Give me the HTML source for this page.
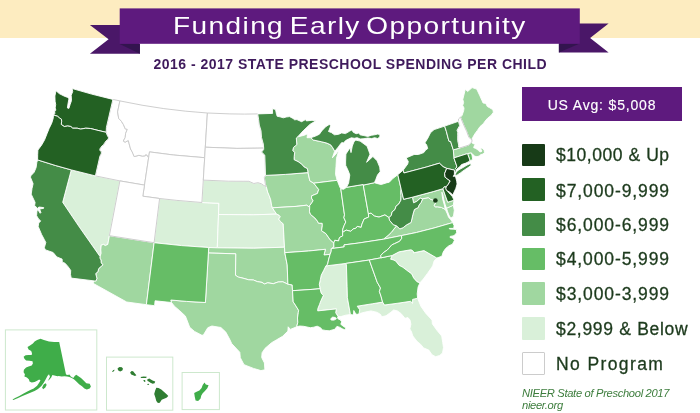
<!DOCTYPE html>
<html lang="en">
<head>
<meta charset="utf-8">
<title>Funding Early Opportunity</title>
<style>
html,body{margin:0;padding:0;background:#fff}
body{width:700px;height:413px;position:relative;overflow:hidden;font-family:"Liberation Sans",sans-serif}
.band{position:absolute;left:0;top:0;width:700px;height:37.5px;background:#fdecc0}
svg.art{position:absolute;left:0;top:0}
.title{position:absolute;left:172.7px;top:8.0px;height:36px;line-height:36px;color:#fff;font-size:24px;white-space:nowrap;letter-spacing:1.2px;word-spacing:-3px;transform-origin:0 50%;transform:scaleX(1.168)}
.sub{position:absolute;left:153.5px;top:55px;width:393px;height:18px;line-height:18px;color:#3f1a5c;font-size:14px;font-weight:bold;white-space:nowrap;letter-spacing:0.49px}
.avg{position:absolute;left:522px;top:87.3px;width:160px;height:34.2px;background:#5e1a7e;color:#fff;font-size:14px;line-height:37.2px;text-align:center;letter-spacing:.83px;-webkit-text-stroke:.15px #fff}
.lg{position:absolute;left:522px;width:178px;height:22.6px}
.lg i{position:absolute;left:0;top:0;width:22.8px;height:22.6px;display:block;box-sizing:border-box;border-radius:1px}
.lg span{position:absolute;left:34px;top:0;line-height:22.6px;font-size:17.5px;color:#1c3a1c;white-space:nowrap;letter-spacing:.5px;-webkit-text-stroke:.3px #1c3a1c}
.foot{position:absolute;left:522px;top:388.2px;font-size:11.2px;line-height:11.7px;letter-spacing:-.33px;font-style:italic;color:#3d7d3d;white-space:nowrap}
.s-10k{fill:#173a17;stroke:#fff;stroke-width:0.9;stroke-linejoin:round;fill-rule:evenodd}
.s-7k{fill:#236123;stroke:#fff;stroke-width:0.9;stroke-linejoin:round;fill-rule:evenodd}
.s-6k{fill:#448c47;stroke:#fff;stroke-width:0.9;stroke-linejoin:round;fill-rule:evenodd}
.s-4k{fill:#66bd66;stroke:#fff;stroke-width:0.9;stroke-linejoin:round;fill-rule:evenodd}
.s-3k{fill:#a0d7a0;stroke:#fff;stroke-width:0.9;stroke-linejoin:round;fill-rule:evenodd}
.s-2k{fill:#d9f0d9;stroke:#fff;stroke-width:0.9;stroke-linejoin:round;fill-rule:evenodd}
.s-none{fill:#ffffff;stroke:#c8c8c8;stroke-width:0.9;stroke-linejoin:round;fill-rule:evenodd}
</style>
</head>
<body>
<div class="band"></div>
<svg class="art" width="700" height="413" viewBox="0 0 700 413">
<!-- ribbon -->
<polygon points="89.9,25 125,25 139.9,44 139.9,53.8 89.9,53.8 108.6,39.2" fill="#4a1768"/>
<polygon points="119.7,44 139.9,44 139.9,53.8" fill="#33144f"/>
<polygon points="608.6,23.5 570,23.5 558.9,43.6 558.9,52.6 608.6,52.6 590.1,38.1" fill="#4a1768"/>
<polygon points="579.8,43.6 558.9,43.6 558.9,52.6" fill="#33144f"/>
<rect x="119.7" y="8.4" width="460.1" height="35.4" fill="#5e1a7e"/>

<path class="s-2k" d="M71.3,169.9 95.4,175.9 119.9,180.9 109.4,235.7 107.8,244.4 105.2,245.6 103.6,244.4 101.2,245.2 100.8,249.9 101.1,253.3 100.0,256.5 79.4,227.1 62.7,202.3 71.3,169.9Z"/>
<path class="s-2k" d="M159.6,198.5 176.9,200.4 201.9,202.5 218.9,203.3 218.5,214.5 217.3,247.8 208.7,247.5 181.6,245.6 154.1,242.7 159.6,198.5Z"/>
<path class="s-2k" d="M203.3,180.1 228.3,181.2 248.9,181.3 253.8,183.5 257.9,182.7 261.2,183.7 263.8,185.5 266.3,186.6 267.7,192.1 269.1,195.4 270.7,199.8 271.6,205.4 272.4,207.8 274.4,210.9 276.6,214.1 253.4,214.8 218.5,214.5 218.9,203.3 201.9,202.5 203.3,180.1Z"/>
<path class="s-2k" d="M218.5,214.5 253.4,214.8 276.6,214.1 278.9,215.1 280.3,216.7 278.7,219.1 280.6,221.7 283.2,223.8 284.5,247.2 253.9,248.2 217.3,247.8 218.5,214.5Z"/>
<path class="s-2k" d="M325.9,265.9 345.3,263.5 346.4,264.6 347.1,286.6 347.4,297.7 350.4,314.5 345.6,315.2 340.9,316.6 338.0,316.4 335.7,312.8 336.3,308.9 317.7,310.9 317.8,308.7 319.4,304.7 320.9,300.7 323.3,295.5 321.1,293.0 320.1,288.7 319.3,284.3 320.3,279.8 321.2,275.3 323.6,270.6 325.9,265.9Z"/>
<path class="s-2k" d="M382.6,302.1 384.5,305.0 397.9,303.2 410.6,301.3 412.6,303.2 412.6,299.4 417.6,298.2 421.0,306.5 425.7,313.2 432.0,320.1 432.4,323.9 437.1,330.5 441.7,336.0 442.7,342.4 443.5,347.7 442.5,352.9 439.8,355.4 435.7,356.7 432.0,354.8 428.8,350.1 423.6,347.9 420.5,344.2 417.2,341.6 412.8,336.0 411.5,331.8 409.8,328.9 410.9,324.2 410.0,320.0 408.0,317.6 405.0,318.3 401.0,313.5 397.4,310.9 393.6,310.0 391.0,312.2 386.0,315.8 381.6,316.8 380.7,314.6 377.3,312.4 371.0,310.9 364.1,312.3 359.1,313.8 359.7,309.7 357.2,306.2 372.8,303.7 382.6,302.1Z"/>
<path class="s-2k" d="M419.9,282.9 416.9,281.7 413.6,277.9 411.7,273.9 406.4,270.0 402.9,267.3 399.1,265.3 395.7,261.0 393.1,259.8 390.6,259.2 392.1,255.5 399.1,251.8 410.6,249.8 411.8,250.1 413.6,251.6 413.6,252.8 424.0,250.6 436.8,258.0 434.1,261.1 432.8,265.4 431.8,267.3 427.4,273.5 423.3,279.1 419.9,282.9Z"/>
<path class="s-3k" d="M109.4,235.7 154.1,242.7 146.4,304.7 126.7,302.0 92.9,283.2 94.3,280.9 96.1,280.9 96.9,278.3 95.7,273.6 97.9,271.8 98.7,268.6 101.2,266.3 103.0,264.9 101.2,262.9 101.0,260.0 99.9,258.1 100.0,256.5 101.1,253.3 100.8,249.9 101.2,245.2 103.6,244.4 105.2,245.6 107.8,244.4 109.4,235.7Z"/>
<path class="s-3k" d="M208.7,247.5 217.3,247.8 253.9,248.2 284.5,247.2 284.8,252.7 287.2,264.8 287.9,284.2 282.8,281.8 278.1,282.0 273.4,283.7 267.7,282.8 264.4,284.0 262.0,282.4 257.2,281.6 253.4,280.0 248.7,279.8 243.0,278.2 238.3,277.1 235.5,275.3 235.7,253.8 208.4,253.0 208.7,247.5Z"/>
<path class="s-3k" d="M208.4,253.0 235.7,253.8 235.5,275.3 238.3,277.1 243.0,278.2 248.7,279.8 253.4,280.0 257.2,281.6 262.0,282.4 264.4,284.0 267.7,282.8 273.4,283.7 278.1,282.0 282.8,281.8 287.9,284.2 292.2,284.9 292.5,290.7 293.2,301.9 294.7,304.0 298.6,310.3 298.3,312.5 297.5,318.0 297.8,322.4 296.7,326.8 290.3,329.4 288.2,326.8 287.9,331.1 282.6,336.3 276.6,339.8 271.6,342.7 265.1,348.3 262.1,352.7 261.7,357.5 264.4,362.9 264.9,369.8 260.9,370.6 253.5,368.4 244.0,364.7 240.3,357.7 239.8,352.3 231.7,343.6 229.7,339.3 225.8,332.1 220.9,327.5 211.9,326.0 207.8,327.7 203.2,335.3 201.4,335.0 194.5,331.4 189.7,327.3 188.0,322.8 185.4,316.1 179.9,310.9 174.4,306.2 171.5,302.5 170.8,300.0 186.5,301.4 205.4,302.5 208.4,253.0Z"/>
<path class="s-3k" d="M265.5,175.4 285.4,174.4 308.0,172.6 309.0,177.0 309.8,180.8 313.8,183.2 316.2,186.3 318.7,189.5 317.4,193.5 311.7,195.8 311.5,198.1 313.1,200.7 312.0,202.5 309.7,205.6 309.7,207.5 306.8,205.2 296.1,206.4 272.4,207.8 271.6,205.4 270.7,199.8 269.1,195.4 267.7,192.1 266.3,186.6 265.4,184.4 264.9,181.0 264.3,177.7 265.5,175.4Z"/>
<path class="s-3k" d="M272.4,207.8 296.1,206.4 306.8,205.2 309.7,207.5 309.5,211.8 310.6,214.5 314.9,218.0 317.4,221.1 318.5,223.2 322.2,223.3 322.3,225.8 321.5,230.7 325.9,233.6 330.2,239.8 333.8,242.9 333.9,247.1 331.3,248.6 331.2,251.4 330.1,254.3 324.0,255.0 325.4,249.3 308.6,251.0 284.8,252.7 284.5,247.2 283.2,223.8 280.6,221.7 278.7,219.1 280.3,216.7 278.9,215.1 276.6,214.1 274.4,210.9 272.4,207.8Z"/>
<path class="s-3k" d="M297.6,136.9 304.4,135.2 307.7,133.7 307.0,137.7 310.7,137.7 313.3,140.0 321.3,141.7 326.8,143.1 330.6,144.8 332.7,147.6 334.7,151.2 332.4,157.8 336.6,153.2 339.4,148.3 336.5,158.3 336.0,166.3 335.5,174.3 337.2,180.3 313.8,183.2 309.8,180.8 309.0,177.0 308.0,172.6 307.4,168.7 303.9,166.8 301.7,164.2 298.2,161.7 294.1,159.7 294.2,156.4 294.7,152.4 292.7,150.6 293.5,147.4 295.7,145.5 296.8,144.5 296.3,138.1 297.6,136.9Z"/>
<path class="s-3k" d="M383.5,239.2 401.4,235.6 416.4,232.5 434.0,228.0 452.7,222.6 450.5,219.2 448.7,217.5 447.1,213.3 445.3,209.4 441.4,207.4 437.5,206.8 435.2,206.9 434.3,205.4 435.8,202.7 435.6,201.6 434.6,200.4 430.8,199.4 428.3,197.6 422.6,198.8 421.1,202.4 418.8,205.5 418.4,207.4 414.4,209.5 412.9,214.5 411.1,222.4 406.4,225.0 403.1,227.7 399.9,228.9 396.5,225.8 391.2,232.5 388.1,235.4 383.5,239.2ZM453.3,205.2 454.3,210.3 453.5,216.2 450.8,218.2 448.9,215.1 447.7,211.9 446.5,208.2 453.3,205.2Z"/>
<path class="s-3k" d="M412.4,197.2 433.2,191.6 442.9,188.7 447.7,202.2 454.0,200.2 453.3,205.2 446.5,208.2 445.2,204.6 443.8,199.8 443.0,195.3 441.9,192.2 442.2,195.6 442.9,200.0 444.3,204.8 445.3,209.4 441.4,207.4 437.5,206.8 435.2,206.9 434.3,205.4 435.8,202.7 435.6,201.6 434.6,200.4 430.8,199.4 428.3,197.6 422.6,198.8 420.3,198.2 416.7,201.4 413.6,202.8 412.4,197.2Z"/>
<path class="s-3k" d="M453.3,149.9 459.7,148.0 468.8,145.1 469.4,144.3 471.9,141.9 472.6,143.4 475.2,144.3 474.2,145.9 473.7,147.7 475.2,148.2 477.0,149.3 478.5,150.4 479.4,151.6 481.0,151.9 481.9,151.1 481.5,150.0 480.2,148.6 482.0,148.0 484.1,150.3 484.5,152.7 482.6,154.1 480.6,154.7 479.2,156.0 477.0,156.7 474.9,156.3 473.0,154.7 471.4,153.0 467.5,153.6 453.9,157.9 453.3,149.9Z"/>
<path class="s-3k" d="M460.5,117.1 462.1,115.3 463.7,110.5 464.0,108.0 462.7,105.5 463.6,102.5 462.8,99.4 465.3,89.3 467.7,91.5 472.1,87.6 476.7,89.1 479.6,95.2 482.1,100.8 483.0,102.9 485.8,103.5 487.3,106.5 489.2,107.5 492.3,109.3 492.9,110.1 493.4,112.2 491.3,115.2 487.6,118.2 485.0,121.2 483.3,123.7 480.0,126.6 477.4,130.4 474.9,133.8 472.6,137.7 472.0,139.5 470.8,139.2 468.8,137.1 466.7,131.5 463.9,125.4 460.5,117.1Z"/>
<path class="s-4k" d="M154.1,242.7 181.6,245.6 208.7,247.5 208.4,253.0 205.4,302.5 186.5,301.4 170.8,300.0 171.5,302.5 155.1,300.8 154.6,305.7 146.4,304.7 154.1,242.7Z"/>
<path class="s-4k" d="M284.8,252.7 308.6,251.0 325.4,249.3 324.0,255.0 330.1,254.3 328.5,260.0 327.6,264.3 325.9,265.9 323.6,270.6 321.2,275.3 320.3,279.8 319.3,284.3 320.1,288.7 312.1,289.4 292.5,290.7 292.2,284.9 287.9,284.2 287.2,264.8 284.8,252.7Z"/>
<path class="s-4k" d="M292.5,290.7 312.1,289.4 320.1,288.7 321.1,293.0 323.3,295.5 320.9,300.7 319.4,304.7 317.8,308.7 317.7,310.9 336.3,308.9 335.7,312.8 338.0,316.4 337.5,317.6 338.0,318.8 340.2,319.8 341.7,321.8 340.8,324.3 343.0,326.0 345.8,327.9 345.3,330.0 342.3,328.8 339.5,327.2 336.9,326.4 334.8,329.3 332.1,330.0 329.3,330.8 325.9,330.5 322.6,329.9 320.2,327.6 317.2,326.2 313.7,327.2 310.3,327.7 303.6,326.3 299.5,326.0 296.7,326.8 297.8,322.4 297.5,318.0 298.3,312.5 298.6,310.3 294.7,304.0 293.2,301.9 292.5,290.7ZM330.7,318.8 332.7,317.1 335.4,317.5 336.4,318.8 334.0,320.1 331.3,320.1 330.7,318.8Z"/>
<path class="s-4k" d="M313.8,183.2 337.2,180.3 339.9,187.3 340.8,188.8 344.5,214.8 343.9,217.7 345.8,222.0 344.1,225.6 342.8,229.1 342.6,232.5 342.7,235.9 339.5,237.5 338.6,240.9 334.8,240.3 333.8,242.9 330.2,239.8 325.9,233.6 321.5,230.7 322.3,225.8 322.2,223.3 318.5,223.2 317.4,221.1 314.9,218.0 310.6,214.5 309.5,211.8 309.7,207.5 309.7,205.6 312.0,202.5 313.1,200.7 311.5,198.1 311.7,195.8 317.4,193.5 318.7,189.5 316.2,186.3 313.8,183.2Z"/>
<path class="s-4k" d="M340.8,188.8 343.6,189.3 346.5,187.3 363.2,184.5 368.4,213.7 368.7,217.1 364.1,219.0 361.9,224.3 361.1,227.4 357.3,226.4 355.8,228.3 353.2,228.9 350.8,231.3 346.1,230.1 342.6,232.5 342.8,229.1 344.1,225.6 345.8,222.0 343.9,217.7 344.5,214.8 340.8,188.8Z"/>
<path class="s-4k" d="M374.4,182.7 378.5,183.9 381.2,184.5 386.9,182.7 389.3,182.2 392.8,178.5 397.8,174.7 401.2,189.3 400.8,192.2 401.1,195.5 400.9,200.2 398.7,204.1 396.0,206.2 395.0,209.5 392.1,211.9 391.3,215.5 389.0,217.6 384.9,214.9 379.0,217.1 374.3,216.0 371.1,213.2 368.4,213.7 363.2,184.5 363.3,185.1 374.4,182.7Z"/>
<path class="s-4k" d="M333.8,242.9 334.8,240.3 338.6,240.9 339.5,237.5 342.7,235.9 342.6,232.5 346.1,230.1 350.8,231.3 353.2,228.9 355.8,228.3 357.3,226.4 361.1,227.4 361.9,224.3 364.1,219.0 368.7,217.1 368.4,213.7 371.1,213.2 374.3,216.0 379.0,217.1 384.9,214.9 389.0,217.6 389.6,220.4 393.3,224.7 396.5,225.8 391.2,232.5 388.1,235.4 383.5,239.2 358.1,243.1 344.0,244.9 344.2,246.9 331.3,248.6 333.9,247.1 333.8,242.9Z"/>
<path class="s-4k" d="M331.3,248.6 344.2,246.9 344.0,244.9 358.1,243.1 383.5,239.2 401.4,235.6 401.8,238.2 399.6,241.3 394.5,243.7 391.9,244.8 387.3,250.0 383.2,252.8 380.8,255.5 381.1,257.8 369.3,260.0 345.3,263.5 325.9,265.9 327.6,264.3 328.5,260.0 330.1,254.3 331.2,251.4 331.3,248.6Z"/>
<path class="s-4k" d="M345.3,263.5 369.3,260.0 377.2,282.2 380.5,288.0 379.4,291.5 381.0,296.2 382.6,302.1 372.8,303.7 357.2,306.2 359.7,309.7 359.1,313.8 356.9,314.5 355.2,313.1 353.8,310.5 353.4,315.0 350.4,314.5 347.4,297.7 347.1,286.6 346.4,264.6 345.3,263.5Z"/>
<path class="s-4k" d="M369.3,260.0 381.1,257.8 392.1,255.5 390.6,259.2 393.1,259.8 395.7,261.0 399.1,265.3 402.9,267.3 406.4,270.0 411.7,273.9 413.6,277.9 416.9,281.7 419.9,282.9 418.1,287.0 417.2,293.9 417.6,298.2 412.6,299.4 412.6,303.2 410.6,301.3 397.9,303.2 384.5,305.0 382.6,302.1 381.0,296.2 379.4,291.5 380.5,288.0 377.2,282.2 369.3,260.0Z"/>
<path class="s-4k" d="M401.4,235.6 401.8,238.2 399.6,241.3 394.5,243.7 391.9,244.8 387.3,250.0 383.2,252.8 380.8,255.5 381.1,257.8 392.1,255.5 399.1,251.8 410.6,249.8 411.8,250.1 413.6,251.6 413.6,252.8 424.0,250.6 436.8,258.0 438.1,257.6 441.9,256.2 443.2,252.1 445.6,248.5 449.0,245.7 452.4,244.3 454.4,240.5 453.1,238.4 450.1,237.5 450.2,236.4 453.1,235.9 454.9,235.0 456.6,232.7 456.4,229.6 453.9,229.2 449.5,229.0 449.3,228.4 453.7,228.4 454.1,225.7 452.7,222.6 434.0,228.0 416.4,232.5 401.4,235.6Z"/>
<path class="s-4k" d="M467.5,153.6 469.8,159.9 469.6,161.2 472.7,159.4 472.1,155.8 471.4,153.0 467.5,153.6Z"/>
<path class="s-none" d="M112.9,99.4 119.9,100.9 117.6,111.9 118.7,118.4 121.4,121.3 123.4,124.5 125.3,128.9 127.3,129.3 125.6,133.5 125.2,137.5 123.3,141.1 125.1,142.2 128.3,140.5 129.2,143.9 130.6,149.1 131.9,151.3 133.0,153.7 134.2,156.6 138.9,155.3 142.4,156.1 145.3,155.8 145.7,154.6 147.2,155.3 148.6,157.8 144.5,185.1 119.9,180.9 95.4,175.9 99.9,156.2 100.7,154.7 101.4,153.1 101.2,151.3 99.8,150.4 100.0,148.7 102.1,145.8 103.5,145.1 104.3,143.4 106.0,141.0 108.3,139.1 108.4,137.4 107.0,134.8 106.2,132.3 106.4,127.5 112.9,99.4Z"/>
<path class="s-none" d="M119.9,100.9 142.0,105.2 163.8,108.6 185.8,111.2 207.4,113.0 205.3,147.2 204.7,157.7 173.5,155.0 149.5,151.9 148.6,157.8 147.2,155.3 145.7,154.6 145.3,155.8 142.4,156.1 138.9,155.3 134.2,156.6 133.0,153.7 131.9,151.3 130.6,149.1 129.2,143.9 128.3,140.5 125.1,142.2 123.3,141.1 125.2,137.5 125.6,133.5 127.3,129.3 125.3,128.9 123.4,124.5 121.4,121.3 118.7,118.4 117.6,111.9 119.9,100.9Z"/>
<path class="s-none" d="M148.6,157.8 149.5,151.9 173.5,155.0 204.7,157.7 203.3,180.1 201.9,202.5 176.9,200.4 159.6,198.5 142.8,196.2 144.5,185.1 148.6,157.8Z"/>
<path class="s-none" d="M119.9,180.9 144.5,185.1 142.8,196.2 159.6,198.5 154.1,242.7 109.4,235.7 119.9,180.9Z"/>
<path class="s-none" d="M207.4,113.0 229.9,113.9 244.6,114.1 257.7,113.9 258.6,119.5 259.3,125.1 261.0,130.7 261.5,137.4 263.3,144.0 263.7,148.1 236.9,148.4 205.3,147.2 207.4,113.0Z"/>
<path class="s-none" d="M205.3,147.2 236.9,148.4 263.7,148.1 263.6,149.6 261.6,152.0 264.8,155.2 265.5,175.4 264.3,177.7 264.9,181.0 265.4,184.4 266.3,186.6 263.8,185.5 261.2,183.7 257.9,182.7 253.8,183.5 248.9,181.3 228.3,181.2 203.3,180.1 204.7,157.7 205.3,147.2Z"/>
<path class="s-none" d="M458.5,121.3 458.5,119.0 460.5,117.1 463.9,125.4 466.7,131.5 468.8,137.1 470.8,139.2 472.0,139.5 471.9,141.9 469.4,144.3 468.8,145.1 459.7,148.0 458.5,146.9 458.7,145.1 457.7,140.7 457.7,135.9 457.7,132.4 457.0,130.2 459.6,125.7 458.5,121.3Z"/>
<path class="s-6k" d="M71.2,278.1 70.5,274.4 70.7,270.4 68.1,266.7 65.0,263.2 62.3,262.2 62.1,259.1 56.8,256.9 53.1,252.5 45.5,249.9 44.3,247.8 45.8,242.5 44.1,239.2 41.6,234.5 38.2,226.5 38.7,223.0 40.7,220.9 38.5,218.9 36.6,215.7 36.9,211.7 37.6,209.3 40.2,213.3 40.9,212.5 39.6,209.0 43.5,208.4 43.7,207.6 38.8,207.0 37.7,208.5 34.6,205.5 35.1,202.4 31.2,194.2 32.0,188.6 33.1,183.7 30.6,177.6 30.7,175.9 34.1,172.3 36.1,167.6 36.8,162.6 37.6,159.9 55.2,165.4 71.3,169.9 62.7,202.3 79.4,227.1 100.0,256.5 99.9,258.1 101.0,260.0 101.2,262.9 103.0,264.9 101.2,266.3 98.7,268.6 97.9,271.8 95.7,273.6 96.9,278.3 96.1,280.9 94.3,280.9 71.2,278.1Z"/>
<path class="s-6k" d="M257.7,113.9 272.6,113.4 272.4,108.7 275.5,109.4 276.5,114.3 277.2,116.3 279.9,116.8 283.3,117.8 286.2,117.0 289.5,116.6 293.0,118.4 294.6,119.8 296.9,119.6 301.6,121.7 305.5,119.6 306.4,120.9 312.0,120.3 315.9,120.8 309.9,124.4 303.2,130.8 297.6,136.9 296.3,138.1 296.8,144.5 295.7,145.5 293.5,147.4 292.7,150.6 294.7,152.4 294.2,156.4 294.1,159.7 298.2,161.7 301.7,164.2 303.9,166.8 307.4,168.7 308.0,172.6 285.4,174.4 265.5,175.4 264.8,155.2 261.6,152.0 263.6,149.6 263.7,148.1 263.3,144.0 261.5,137.4 261.0,130.7 259.3,125.1 258.6,119.5 257.7,113.9Z"/>
<path class="s-6k" d="M310.7,137.7 315.5,136.1 319.4,134.2 321.7,130.9 325.7,126.7 329.2,124.5 330.8,125.5 329.5,129.1 328.5,131.5 331.3,132.5 334.5,134.8 338.7,134.3 341.6,132.9 345.5,133.6 349.4,131.3 351.9,129.9 353.3,132.3 356.2,133.7 359.1,132.9 360.0,134.8 363.9,135.6 367.8,136.4 371.7,135.2 374.6,134.8 377.5,134.1 379.9,134.5 379.8,137.1 377.6,138.5 374.6,137.7 371.7,138.6 367.8,138.0 364.0,138.7 360.1,139.0 357.2,137.7 354.3,138.3 351.3,137.8 348.5,139.1 345.6,140.6 343.6,142.9 341.7,142.6 339.8,144.9 337.8,147.8 335.9,149.7 334.7,151.2 332.7,147.6 330.6,144.8 326.8,143.1 321.3,141.7 313.3,140.0 310.7,137.7ZM346.5,187.3 348.6,183.1 349.8,175.0 348.2,170.7 345.7,165.4 345.6,162.0 345.9,154.0 350.1,147.7 351.0,152.6 352.3,146.1 353.9,141.9 355.7,140.1 360.1,141.1 367.1,146.2 370.0,154.2 366.6,162.3 372.9,156.5 377.1,160.8 379.7,167.1 380.2,171.6 377.5,175.0 375.9,179.3 374.4,182.7 363.3,185.1 363.2,184.5 346.5,187.3Z"/>
<path class="s-6k" d="M401.2,189.3 400.8,192.2 401.1,195.5 400.9,200.2 398.7,204.1 396.0,206.2 395.0,209.5 392.1,211.9 391.3,215.5 389.0,217.6 389.6,220.4 393.3,224.7 396.5,225.8 399.9,228.9 403.1,227.7 406.4,225.0 411.1,222.4 412.9,214.5 414.4,209.5 418.4,207.4 418.8,205.5 421.1,202.4 422.6,198.8 420.3,198.2 416.7,201.4 413.6,202.8 412.4,197.2 403.6,199.3 401.2,189.3Z"/>
<path class="s-6k" d="M403.2,170.1 407.7,164.0 408.3,161.5 406.1,157.9 414.1,154.5 418.4,154.5 423.8,152.6 425.6,150.1 427.7,148.6 426.6,144.8 424.8,143.0 427.9,138.0 430.5,132.7 434.1,129.6 444.6,126.1 446.4,131.5 447.8,137.0 449.0,141.3 450.6,141.4 453.3,149.9 453.9,157.9 456.7,165.9 456.2,166.0 457.1,166.8 455.4,168.6 456.4,169.5 455.9,171.4 455.0,173.3 454.6,171.5 454.4,170.1 446.7,168.4 443.1,166.7 439.4,163.2 426.2,167.1 403.9,173.0 403.2,170.1ZM455.2,174.6 456.3,171.9 458.9,169.8 463.0,167.5 467.0,165.1 470.5,163.5 471.2,165.3 468.1,167.6 464.1,170.2 460.4,172.9 457.0,175.2 455.0,175.4 455.2,174.6Z"/>
<path class="s-6k" d="M444.6,126.1 458.5,121.3 459.6,125.7 457.0,130.2 457.7,132.4 457.7,135.9 457.7,140.7 458.7,145.1 458.5,146.9 459.7,148.0 453.3,149.9 450.6,141.4 449.0,141.3 447.8,137.0 446.4,131.5 444.6,126.1Z"/>
<path class="s-7k" d="M53.5,115.0 54.8,113.6 54.7,110.7 55.9,110.2 55.2,107.9 55.7,104.5 55.1,101.3 54.9,96.0 56.0,90.7 59.2,93.6 64.0,96.0 67.8,97.5 69.0,98.7 68.2,102.6 67.4,107.9 68.9,108.4 70.2,104.3 71.5,100.5 71.2,95.3 72.7,91.6 72.1,88.5 91.6,94.1 112.9,99.4 106.4,127.5 106.2,132.3 98.0,130.4 90.5,128.5 85.7,128.2 80.6,129.1 77.2,128.2 72.7,128.2 70.8,126.5 67.7,126.0 64.2,126.5 61.2,124.4 61.6,121.8 61.5,119.3 59.5,118.0 57.6,116.3 53.5,115.0Z"/>
<path class="s-7k" d="M37.6,159.9 37.7,154.6 37.9,150.1 41.8,144.8 44.6,139.8 47.1,133.5 49.2,128.3 51.7,123.2 53.2,118.4 53.5,115.0 57.6,116.3 59.5,118.0 61.5,119.3 61.6,121.8 61.2,124.4 64.2,126.5 67.7,126.0 70.8,126.5 72.7,128.2 77.2,128.2 80.6,129.1 85.7,128.2 90.5,128.5 98.0,130.4 106.2,132.3 107.0,134.8 108.4,137.4 108.3,139.1 106.0,141.0 104.3,143.4 103.5,145.1 102.1,145.8 100.0,148.7 99.8,150.4 101.2,151.3 101.4,153.1 100.7,154.7 99.9,156.2 95.4,175.9 71.3,169.9 55.2,165.4 37.6,159.9Z"/>
<path class="s-7k" d="M442.9,188.7 444.2,186.7 446.2,186.8 446.0,189.0 447.8,191.5 450.3,194.3 452.5,196.8 454.0,200.2 447.7,202.2 442.9,188.7Z"/>
<path class="s-7k" d="M397.8,174.7 403.2,170.1 403.9,173.0 426.2,167.1 439.4,163.2 443.1,166.7 446.7,168.4 444.6,173.6 445.1,177.2 447.9,179.3 450.2,180.9 448.2,184.4 446.2,186.8 444.2,186.7 442.9,188.7 433.2,191.6 412.4,197.2 403.6,199.3 401.2,189.3 397.8,174.7Z"/>
<path class="s-7k" d="M453.9,157.9 467.5,153.6 469.8,159.9 469.6,161.2 465.9,163.1 461.5,164.6 460.3,166.2 456.4,169.5 455.4,168.6 457.1,166.8 456.2,166.0 456.7,165.9 453.9,157.9Z"/>
<path class="s-10k" d="M446.7,168.4 454.4,170.1 454.4,174.3 453.3,176.4 455.4,176.0 456.7,181.2 457.1,184.0 455.8,188.5 452.8,194.9 449.7,192.2 446.4,190.3 445.9,188.7 446.2,186.8 448.2,184.4 450.2,180.9 447.9,179.3 445.1,177.2 444.6,173.6 446.7,168.4Z"/>
<circle cx="435.4" cy="200.5" r="2.3" fill="#173a17"/>
<rect x="5.4" y="329.9" width="91.4" height="80.1" fill="#fff" stroke="#cde8cd" stroke-width="1"/>
<polygon points="40.5,338.7 43.9,340.1 49.0,341.4 54.1,342.1 59.2,342.1 66.0,374.5 67.9,375.0 69.4,374.5 70.8,376.5 73.3,377.9 74.7,376.0 76.2,374.7 78.1,376.0 81.0,377.9 83.9,380.8 86.3,383.3 89.7,383.7 90.9,386.6 89.7,388.6 86.8,389.6 84.4,388.6 82.0,386.2 79.1,384.2 76.6,381.8 74.2,379.4 71.8,377.9 69.4,377.0 67.0,376.5 64.5,376.3 61.6,376.5 58.7,376.0 57.5,376.2 54.4,375.5 52.4,375.0 51.2,377.4 49.5,379.6 47.6,380.9 48.6,379.4 50.0,376.7 49.0,374.3 47.6,375.7 45.6,379.4 43.9,382.6 41.4,386.0 38.0,389.1 34.6,391.1 30.3,392.8 26.1,394.5 21.9,396.2 17.6,398.2 13.4,400.1 12.5,399.4 15.1,398.1 19.3,396.0 23.6,393.5 26.9,391.8 30.3,390.1 33.7,388.4 37.1,385.8 38.8,383.3 40.5,380.4 39.2,379.4 37.1,380.8 34.6,382.1 31.7,382.5 29.5,381.6 29.0,379.4 26.9,377.4 24.4,376.5 24.9,374.3 23.6,372.3 23.9,369.7 26.1,367.5 28.6,366.4 31.7,365.5 32.9,363.5 32.5,361.3 29.5,360.8 26.1,360.4 24.4,358.7 23.6,356.7 25.6,355.3 28.6,355.0 31.7,355.0 32.0,353.3 31.2,351.1 28.6,349.4 27.5,346.9 30.0,345.5 32.9,343.5 34.6,341.4 37.1,340.1" fill="#3fad49"/>
<polygon points="43.9,384.2 45.9,383.3 46.6,385.0 45.3,387.5 43.1,389.2 42.2,387.5 43.1,385.5" fill="#3fad49"/>
<rect x="106.5" y="357.1" width="66.3" height="53.1" fill="#fff" stroke="#cde8cd" stroke-width="1"/>
<polygon points="112.1,371.6 113.4,370.1 114.7,369.7 113.9,371.2 112.6,372.1" fill="#2f7d32"/>
<polygon points="117.6,368.2 119.5,367.1 121.9,367.3 123.0,368.8 122.3,370.6 120.1,371.4 118.0,370.3" fill="#2f7d32"/>
<polygon points="130.1,372.5 131.6,371.0 133.1,371.2 134.5,373.1 136.4,375.3 134.9,376.0 133.1,375.3 131.2,374.5" fill="#2f7d32"/>
<polygon points="140.5,377.0 143.6,376.4 146.8,376.8 146.1,378.1 143.1,377.9 141.2,378.1" fill="#2f7d32"/>
<polygon points="143.3,380.1 144.8,379.9 145.7,381.2 144.2,382.0" fill="#2f7d32"/>
<polygon points="147.2,379.4 149.2,378.6 150.9,379.4 152.6,380.5 155.2,381.6 154.6,383.3 152.6,383.8 150.5,382.7 148.7,381.6 147.5,380.9" fill="#2f7d32"/>
<polygon points="147.2,384.0 148.7,383.8 149.2,384.8 147.7,385.1" fill="#2f7d32"/>
<polygon points="156.3,387.7 158.5,387.9 161.3,389.4 164.1,392.0 166.9,394.4 168.3,396.1 166.5,397.8 164.1,398.7 161.7,399.8 159.8,402.8 157.9,403.1 156.3,400.9 155.3,397.2 154.2,393.9 155.2,390.5" fill="#2f7d32"/>
<rect x="182.1" y="372.5" width="37.3" height="37.1" fill="#fff" stroke="#cde8cd" stroke-width="1"/>
<polygon points="204.5,382.5 205.8,384.6 208.6,385.3 207.3,388.3 204.9,390.9 202.5,393.5 201.2,395.7 200.6,398.5 198.1,400.9 195.6,400.4 194.7,396.6 194.2,392.9 196.6,391.8 199.4,390.5 201.6,387.9 202.7,384.9" fill="#3fad49"/>
</svg>
<div class="title">Funding Early Opportunity</div>
<div class="sub">2016 - 2017 STATE PRESCHOOL SPENDING PER CHILD</div>
<div class="avg">US Avg: $5,008</div>
<div class="lg" style="top:143.8px"><i style="background:#173a17"></i><span style="top:0px;letter-spacing:0.55px">$10,000 &amp; Up</span></div>
<div class="lg" style="top:178.3px"><i style="background:#236123"></i><span style="top:1.8px;letter-spacing:0.9px">$7,000-9,999</span></div>
<div class="lg" style="top:213px"><i style="background:#448c47"></i><span style="top:0.8px;letter-spacing:0.9px">$6,000-6,999</span></div>
<div class="lg" style="top:247.8px"><i style="background:#66bd66"></i><span style="top:0px;letter-spacing:0.9px">$4,000-5,999</span></div>
<div class="lg" style="top:282.4px"><i style="background:#a0d7a0"></i><span style="top:0.8px;letter-spacing:0.9px">$3,000-3,999</span></div>
<div class="lg" style="top:317.2px"><i style="background:#d9f0d9"></i><span style="top:1.3px;letter-spacing:0.7px">$2,999 &amp; Below</span></div>
<div class="lg" style="top:352px"><i style="background:#fff;border:1px solid #ccc"></i><span style="top:0.7px;letter-spacing:1.4px">No Program</span></div>
<div class="foot">NIEER State of Preschool 2017<br>nieer.org</div>
</body>
</html>
